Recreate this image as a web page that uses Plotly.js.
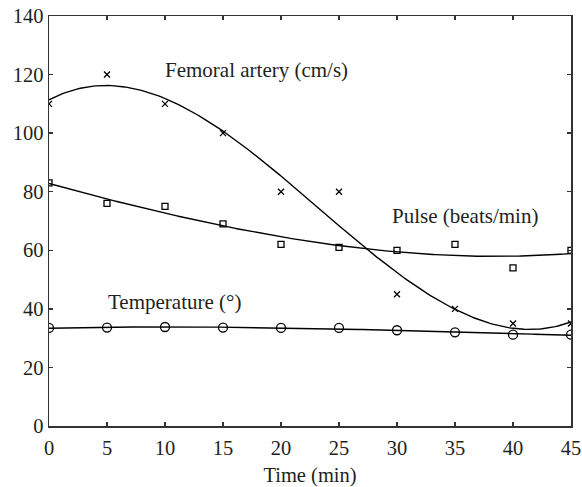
<!DOCTYPE html>
<html>
<head>
<meta charset="utf-8">
<script src="https://cdn.plot.ly/plotly-3.0.1.min.js"></script>
<style>
  html, body { margin: 0; padding: 0; background: #fff; }
  #chart { width: 582px; height: 487px; }
</style>
</head>
<body>
<div id="chart"></div>
<script>
// Measurements taken every 5 minutes
const timeMin = [0, 5, 10, 15, 20, 25, 30, 35, 40, 45];
const femoralArtery = [110, 120, 110, 100, 80, 80, 45, 40, 35, 35];
const pulse = [83, 76, 75, 69, 62, 61, 60, 62, 54, 60];
const temperature = [33.5, 33.6, 33.8, 33.6, 33.5, 33.5, 32.7, 32, 31.2, 31.2];

const xTicks = [0, 5, 10, 15, 20, 25, 30, 35, 40, 45];
const yTicks = [0, 20, 40, 60, 80, 100, 120, 140];

const seriesLabels = ["Femoral artery (cm/s)", "Pulse (beats/min)", "Temperature (\u00b0)"];
const labelX = [17.9, 35.9, 10.8];
const labelY = [121.4, 71.6, 42.3];

// Least-squares cubic trend line through a data series
function cubicFit(xs, ys) {
  const n = 4;
  const A = [];
  for (let i = 0; i < n; i++) A.push(new Array(n + 1).fill(0));
  for (let k = 0; k < xs.length; k++) {
    const p = [1, xs[k], xs[k] ** 2, xs[k] ** 3];
    for (let i = 0; i < n; i++) {
      for (let j = 0; j < n; j++) A[i][j] += p[i] * p[j];
      A[i][n] += p[i] * ys[k];
    }
  }
  // Gauss-Jordan elimination with partial pivoting
  for (let c = 0; c < n; c++) {
    let piv = c;
    for (let r = c + 1; r < n; r++) if (Math.abs(A[r][c]) > Math.abs(A[piv][c])) piv = r;
    [A[c], A[piv]] = [A[piv], A[c]];
    for (let r = 0; r < n; r++) {
      if (r === c) continue;
      const f = A[r][c] / A[c][c];
      for (let j = c; j <= n; j++) A[r][j] -= f * A[c][j];
    }
  }
  return A.map((row, i) => row[n] / row[i]);
}

function trendTrace(ys) {
  const c = cubicFit(timeMin, ys);
  const xs = [], out = [];
  const x0 = timeMin[0], x1 = timeMin[timeMin.length - 1];
  for (let i = 0; i <= 200; i++) {
    const x = x0 + (x1 - x0) * i / 200;
    xs.push(x);
    out.push(c[0] + c[1] * x + c[2] * x * x + c[3] * x * x * x);
  }
  return {
    x: xs, y: out, type: "scatter", mode: "lines",
    line: { color: "#000", width: 1.4 }, hoverinfo: "skip", showlegend: false
  };
}

function pointTrace(ys, symbol, size) {
  return {
    x: timeMin, y: ys, type: "scatter", mode: "markers",
    marker: { symbol: symbol, size: size, color: "#000",
              line: { color: "#000", width: 1.3 } },
    showlegend: false
  };
}

const textColor = "#231f20";
const fontFamily = "Liberation Serif, Times New Roman, serif";

const traces = [
  trendTrace(femoralArtery),
  trendTrace(pulse),
  trendTrace(temperature),
  pointTrace(femoralArtery, "x-thin-open", 6),
  pointTrace(pulse, "square-open", 6),
  pointTrace(temperature, "circle-open", 9)
];

const annotations = seriesLabels.map((t, i) => ({
  x: labelX[i], y: labelY[i], xref: "x", yref: "y",
  text: t, showarrow: false,
  font: { family: fontFamily, size: 21, color: textColor }
}));

const axisCommon = {
  showgrid: false, zeroline: false,
  showline: true, linecolor: "#333", linewidth: 1.5, mirror: "allticks",
  ticks: "inside", ticklen: 4, tickwidth: 1.3, tickcolor: "#333",
  tickfont: { family: fontFamily, size: 20.5, color: textColor }
};

const layout = {
  width: 582, height: 487,
  margin: { l: 49, r: 11, t: 16, b: 61 },
  paper_bgcolor: "#fff", plot_bgcolor: "#fff",
  xaxis: Object.assign({}, axisCommon, {
    range: [0, 45], tickvals: xTicks, ticklabelstandoff: 3,
    title: { text: "Time (min)", font: { family: fontFamily, size: 20.5, color: textColor }, standoff: 9 }
  }),
  yaxis: Object.assign({}, axisCommon, {
    range: [0, 140], tickvals: yTicks
  }),
  annotations: annotations
};

Plotly.newPlot("chart", traces, layout, { displayModeBar: false, staticPlot: true });
</script>
</body>
</html>
